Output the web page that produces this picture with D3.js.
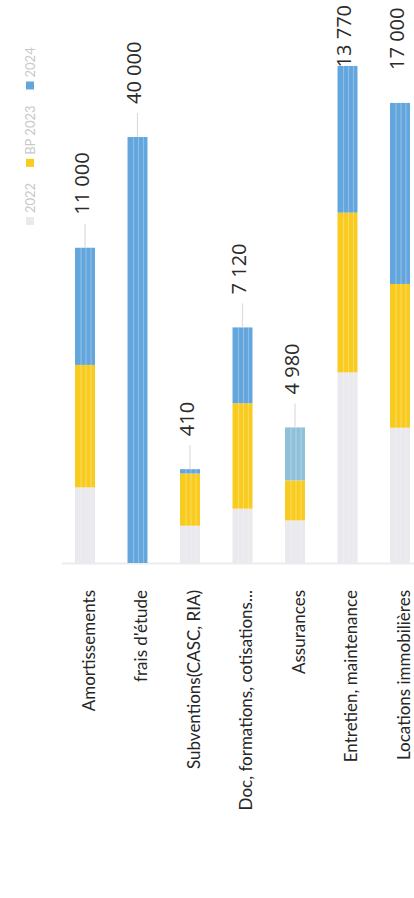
<!DOCTYPE html>
<html>
<head>
<meta charset="utf-8">
<script src="https://cdn.jsdelivr.net/npm/d3@7/dist/d3.min.js"></script>
<style>
  html, body { margin: 0; padding: 0; background: #ffffff; }
  svg { display: block; }
</style>
</head>
<body>
<svg id="chart" width="414" height="898"></svg>
<script>
// ---- data ----
const categories = [
  "Amortissements",
  "frais d'étude",
  "Subventions(CASC, RIA)",
  "Doc, formations, cotisations...",
  "Assurances",
  "Entretien, maintenance",
  "Locations immobilières"
];
const values2022   = [7100, 0, 3500, 5100, 4000, 17900, 12700];
const valuesBP2023 = [11500, 0, 4900, 9900, 3750, 15000, 13500];
const values2024   = [11000, 40000, 410, 7120, 4980, 13770, 17000];
const seriesNames  = ["2022", "BP 2023", "2024"];
const valueLabels  = ["11 000", "40 000", "410", "7 120", "4 980", "13 770", "17 000"];

// ---- layout ----
const W = 414, H = 898;
const svg = d3.select("#chart");
const colors = ["#e9e9ee", "#f9cb1f", "#62a6dd"];

const x = d3.scaleBand()
  .domain(categories)
  .range([58.75, 426.25])
  .paddingInner(0.62)
  .paddingOuter(0.31);

const y = d3.scaleLinear()
  .domain([0, 40000])
  .range([563, 137]);

const rows = categories.map((c, i) => ({
  cat: c,
  "2022": values2022[i],
  "BP 2023": valuesBP2023[i],
  "2024": values2024[i],
  label: valueLabels[i]
}));

const stack = d3.stack().keys(seriesNames);
const stacked = stack(rows);

// baseline
svg.append("line")
  .attr("x1", 62).attr("x2", W)
  .attr("y1", y(0) + 0.5).attr("y2", y(0) + 0.5)
  .attr("stroke", "#ececf0").attr("stroke-width", 2);

// bars
const gSeries = svg.append("g").selectAll("g")
  .data(stacked)
  .join("g")
  .attr("fill", (d, i) => colors[i]);

gSeries.selectAll("rect")
  .data(d => d.map(p => Object.assign({ key: d.key }, p)))
  .join("rect")
  .attr("x", p => x(p.data.cat))
  .attr("width", x.bandwidth())
  .attr("y", p => y(p[1]))
  .attr("height", p => Math.max(0, y(p[0]) - y(p[1])))
  .attr("fill", p => (p.key === "2024" && p.data.cat === "Assurances") ? "#8fc0da" : null);

// faint vertical stripes (scan texture)
const stripeG = svg.append("g");
rows.forEach(r => {
  const top = y(r["2022"] + r["BP 2023"] + r["2024"]);
  [0.3, 0.55, 0.8].forEach(f => {
    stripeG.append("line")
      .attr("x1", x(r.cat) + x.bandwidth() * f)
      .attr("x2", x(r.cat) + x.bandwidth() * f)
      .attr("y1", top).attr("y2", y(0))
      .attr("stroke", "#ffffff").attr("stroke-opacity", 0.28).attr("stroke-width", 1.2);
  });
});

// leader lines above bars
rows.forEach(r => {
  const top = y(r["2022"] + r["BP 2023"] + r["2024"]);
  if (top > 120) {
    svg.append("line")
      .attr("x1", x(r.cat) + x.bandwidth() / 2)
      .attr("x2", x(r.cat) + x.bandwidth() / 2)
      .attr("y1", top).attr("y2", top - 24)
      .attr("stroke", "#dcdce0").attr("stroke-width", 1.2);
  }
});

// value labels (rotated)
const gap = 33;
rows.forEach(r => {
  const top = y(r["2022"] + r["BP 2023"] + r["2024"]);
  const cx = x(r.cat) + x.bandwidth() / 2 - 4;
  const t = svg.append("text")
    .attr("font-family", "'Open Sans', sans-serif")
    .attr("font-size", 20)
    .attr("fill", "#2b2b2b")
    .attr("dominant-baseline", "central")
    .text(r.label);
  const len = t.node().getComputedTextLength();
  const startY = Math.max(top - gap, 5 + len);
  t.attr("transform", `translate(${cx},${startY}) rotate(-90)`);
});

// category labels (rotated, right-aligned at the axis)
svg.append("g").selectAll("text")
  .data(categories)
  .join("text")
  .attr("font-family", "Lato, 'Open Sans', sans-serif")
  .attr("font-size", 17)
  .attr("fill", "#262626")
  .attr("text-anchor", "end")
  .attr("dominant-baseline", "central")
  .attr("transform", d => `translate(${x(d) + x.bandwidth() / 2 + 3},590) rotate(-90)`)
  .text(d => d);

// legend (rotated, faint)
const legend = svg.append("g")
  .attr("transform", "translate(30,225) rotate(-90)");
let lx = 0;
seriesNames.forEach((s, i) => {
  legend.append("rect")
    .attr("x", lx).attr("y", -4).attr("width", 8).attr("height", 8)
    .attr("fill", colors[i]);
  const t = legend.append("text")
    .attr("x", lx + 12).attr("y", 0)
    .attr("dominant-baseline", "central")
    .attr("font-family", "Lato, sans-serif")
    .attr("font-size", 13)
    .attr("fill", "#c9c9cc")
    .text(s);
  lx += 12 + t.node().getComputedTextLength() + 16;
});
</script>
</body>
</html>
